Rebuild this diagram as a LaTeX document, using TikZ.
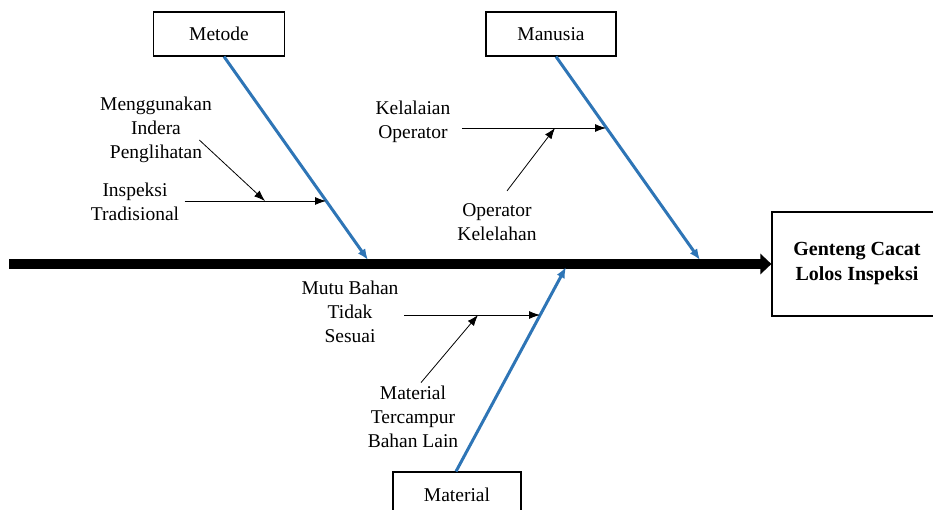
\documentclass[tikz,border=0pt]{standalone}
\usepackage{fontspec}
\setmainfont{Liberation Serif}
\usetikzlibrary{arrows.meta}
\usetikzlibrary{calc}
\definecolor{bonecolor}{HTML}{2E75B6}

\begin{document}
\begin{tikzpicture}[x=1pt,y=-1pt,font=\fontsize{19.5}{24}\selectfont]
\useasboundingbox (0,0) rectangle (933,510);
% boxes
\node [draw,line width=1.2pt,minimum width=131pt,minimum height=44pt] (metode) at (219,34) {Metode};
\node [draw,line width=1.2pt,minimum width=130pt,minimum height=44pt] (manusia) at (551,34) {Manusia};
\node [draw,line width=1.2pt,minimum width=128pt,minimum height=46pt] (material) at (457,495) {Material};
\node [draw,line width=1.2pt,minimum width=170pt,minimum height=104pt,align=center,font=\fontsize{20}{25}\selectfont\bfseries] (genteng) at (857,264) {Genteng Cacat\\Lolos Inspeksi};

% spine
\coordinate (ekor) at (9,264);
\draw [line width=10pt,-{Triangle[length=11pt,width=20pt]}] (ekor) -- (genteng.west);

% bones
\coordinate (h1) at (368,260);
\coordinate (h2) at (700,260);
\coordinate (h3) at (566,267);
\draw [bonecolor,line width=3pt,-{Latex[length=11pt,width=9pt]}] ([xshift=5pt]metode.south) -- (h1);
\draw [bonecolor,line width=3pt,-{Latex[length=11pt,width=9pt]}] ([xshift=5pt]manusia.south) -- (h2);
\draw [bonecolor,line width=3pt,-{Latex[length=11pt,width=9pt]}] ([xshift=-1pt]material.north) -- (h3);

% causes
\node [align=center] (indera) at (156,130) {Menggunakan\\Indera\\Penglihatan};
\node [align=center] (tradisi) at (135,202) {Inspeksi\\Tradisional};
\node [align=center] (lalai) at (413,122) {Kelalaian\\Operator};
\node [align=center] (lelah) at (497,222) {Operator\\Kelelahan};
\node [align=center] (mutu) at (350,312) {Mutu Bahan\\Tidak\\Sesuai};
\node [align=center] (campur) at (413,417) {Material\\Tercampur\\Bahan Lain};

\coordinate (b1) at (326,201);
\coordinate (b2) at (606,128);
\coordinate (b3) at (540,315);
\coordinate (j1) at (265,201);
\coordinate (j2) at (555,128);
\coordinate (j3) at (478,315);

\draw [line width=0.8pt,-{Latex[length=11pt,width=8pt]}] ([xshift=2pt]tradisi.east |- b1) -- (b1);
\draw [line width=0.8pt,-{Latex[length=11pt,width=8pt]}] ([shift={(-16,10)}]indera.east) -- (j1);
\draw [line width=0.8pt,-{Latex[length=11pt,width=8pt]}] ([xshift=8pt]lalai.east |- b2) -- (b2);
\draw [line width=0.8pt,-{Latex[length=11pt,width=8pt]}] ([shift={(10,-9)}]lelah.north) -- (j2);
\draw [line width=0.8pt,-{Latex[length=11pt,width=8pt]}] ([xshift=2pt]mutu.east |- b3) -- (b3);
\draw [line width=0.8pt,-{Latex[length=11pt,width=8pt]}] ([xshift=8pt]campur.north) -- (j3);
\end{tikzpicture}
\end{document}
